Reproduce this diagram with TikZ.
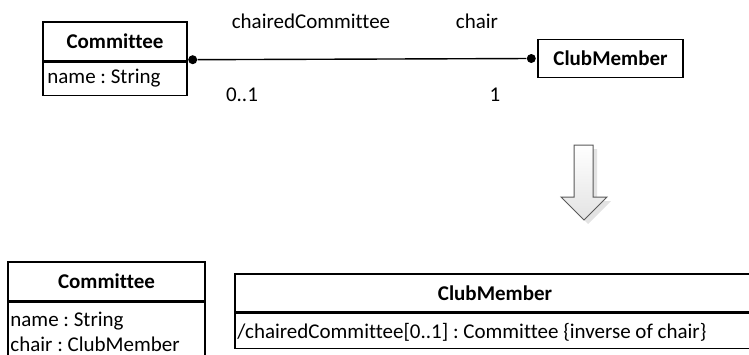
\documentclass[tikz,border=0pt]{standalone}
\usepackage{fontspec}
\setmainfont{Carlito}[Ligatures=NoCommon]
\usetikzlibrary{positioning}
\frenchspacing

\tikzset{
  umlbox/.style={draw=black, line width=0.7pt, inner sep=0pt},
  umltitle/.style={font=\fontsize{10.5}{12.6}\selectfont\bfseries},
  umltext/.style={font=\fontsize{10.5}{12.6}\selectfont, inner sep=0pt},
  enddot/.style={circle, fill=black, inner sep=0pt, minimum size=4.5pt},
}

\begin{document}
\begin{tikzpicture}[x=0.5pt,y=-0.5pt]
\useasboundingbox (0,0) rectangle (749,354);

% association before
\node[umlbox, umltitle, minimum width=72pt, minimum height=19.5pt] (cmtHead) at (115,41.5) {Committee};
\node[umlbox, minimum width=72pt, minimum height=16.5pt, anchor=north] (cmtBody) at (cmtHead.south) {};
\node[umltext, anchor=base west] (cmtName) at (47,83) {name : String};

\node[umlbox, umltitle, minimum width=72.5pt, minimum height=19pt] (cmHead) at (610.5,58.5) {ClubMember};

\node[enddot] (dotL) at ([xshift=2.5pt,yshift=1pt]cmtHead.south east) {};
\node[enddot] (dotR) at ([xshift=-3pt]cmHead.west) {};
\draw[line width=0.7pt] (dotL) -- (dotR);

\node[umltext, anchor=base] (roleL) at (311,28) {chairedCommittee};
\node[umltext, anchor=base] (roleR) at (477,28) {chair};
\node[umltext, anchor=base] (multL) at (242,101) {0..1};
\node[umltext, anchor=base] (multR) at (495,101) {1};

% transformation arrow
\fill[gray!22] (578,149) -- (597,149) -- (597,201) -- (611,201) -- (588,224) -- (565,201) -- (578,201) -- cycle;
\shade[top color=white, bottom color=gray!22, draw=gray!70!black, line width=0.5pt]
  (574,145) -- (593,145) -- (593,197) -- (607,197) -- (584,220) -- (561,197) -- (574,197) -- cycle;

% after
\node[umlbox, umltitle, minimum width=98.5pt, minimum height=19.5pt] (cmtHead2) at (106.5,281.5) {Committee};
\node[umlbox, minimum width=98.5pt, minimum height=31pt, anchor=north] (cmtBody2) at (cmtHead2.south) {};
\node[umltext, anchor=base west] (cmtName2) at (10,326) {name : String};
\node[umltext, anchor=base west] (cmtChair2) at (10,351.5) {chair : ClubMember};

\node[umlbox, umltitle, minimum width=260pt, minimum height=19pt] (cmHead2) at (495,293) {ClubMember};
\node[umlbox, minimum width=260pt, minimum height=17.5pt, anchor=north] (cmBody2) at (cmHead2.south) {};
\node[umltext, anchor=base west] (cmAttr2) at (237,338) {/chairedCommittee[0..1] : Committee \{inverse of chair\}};
\end{tikzpicture}
\end{document}
